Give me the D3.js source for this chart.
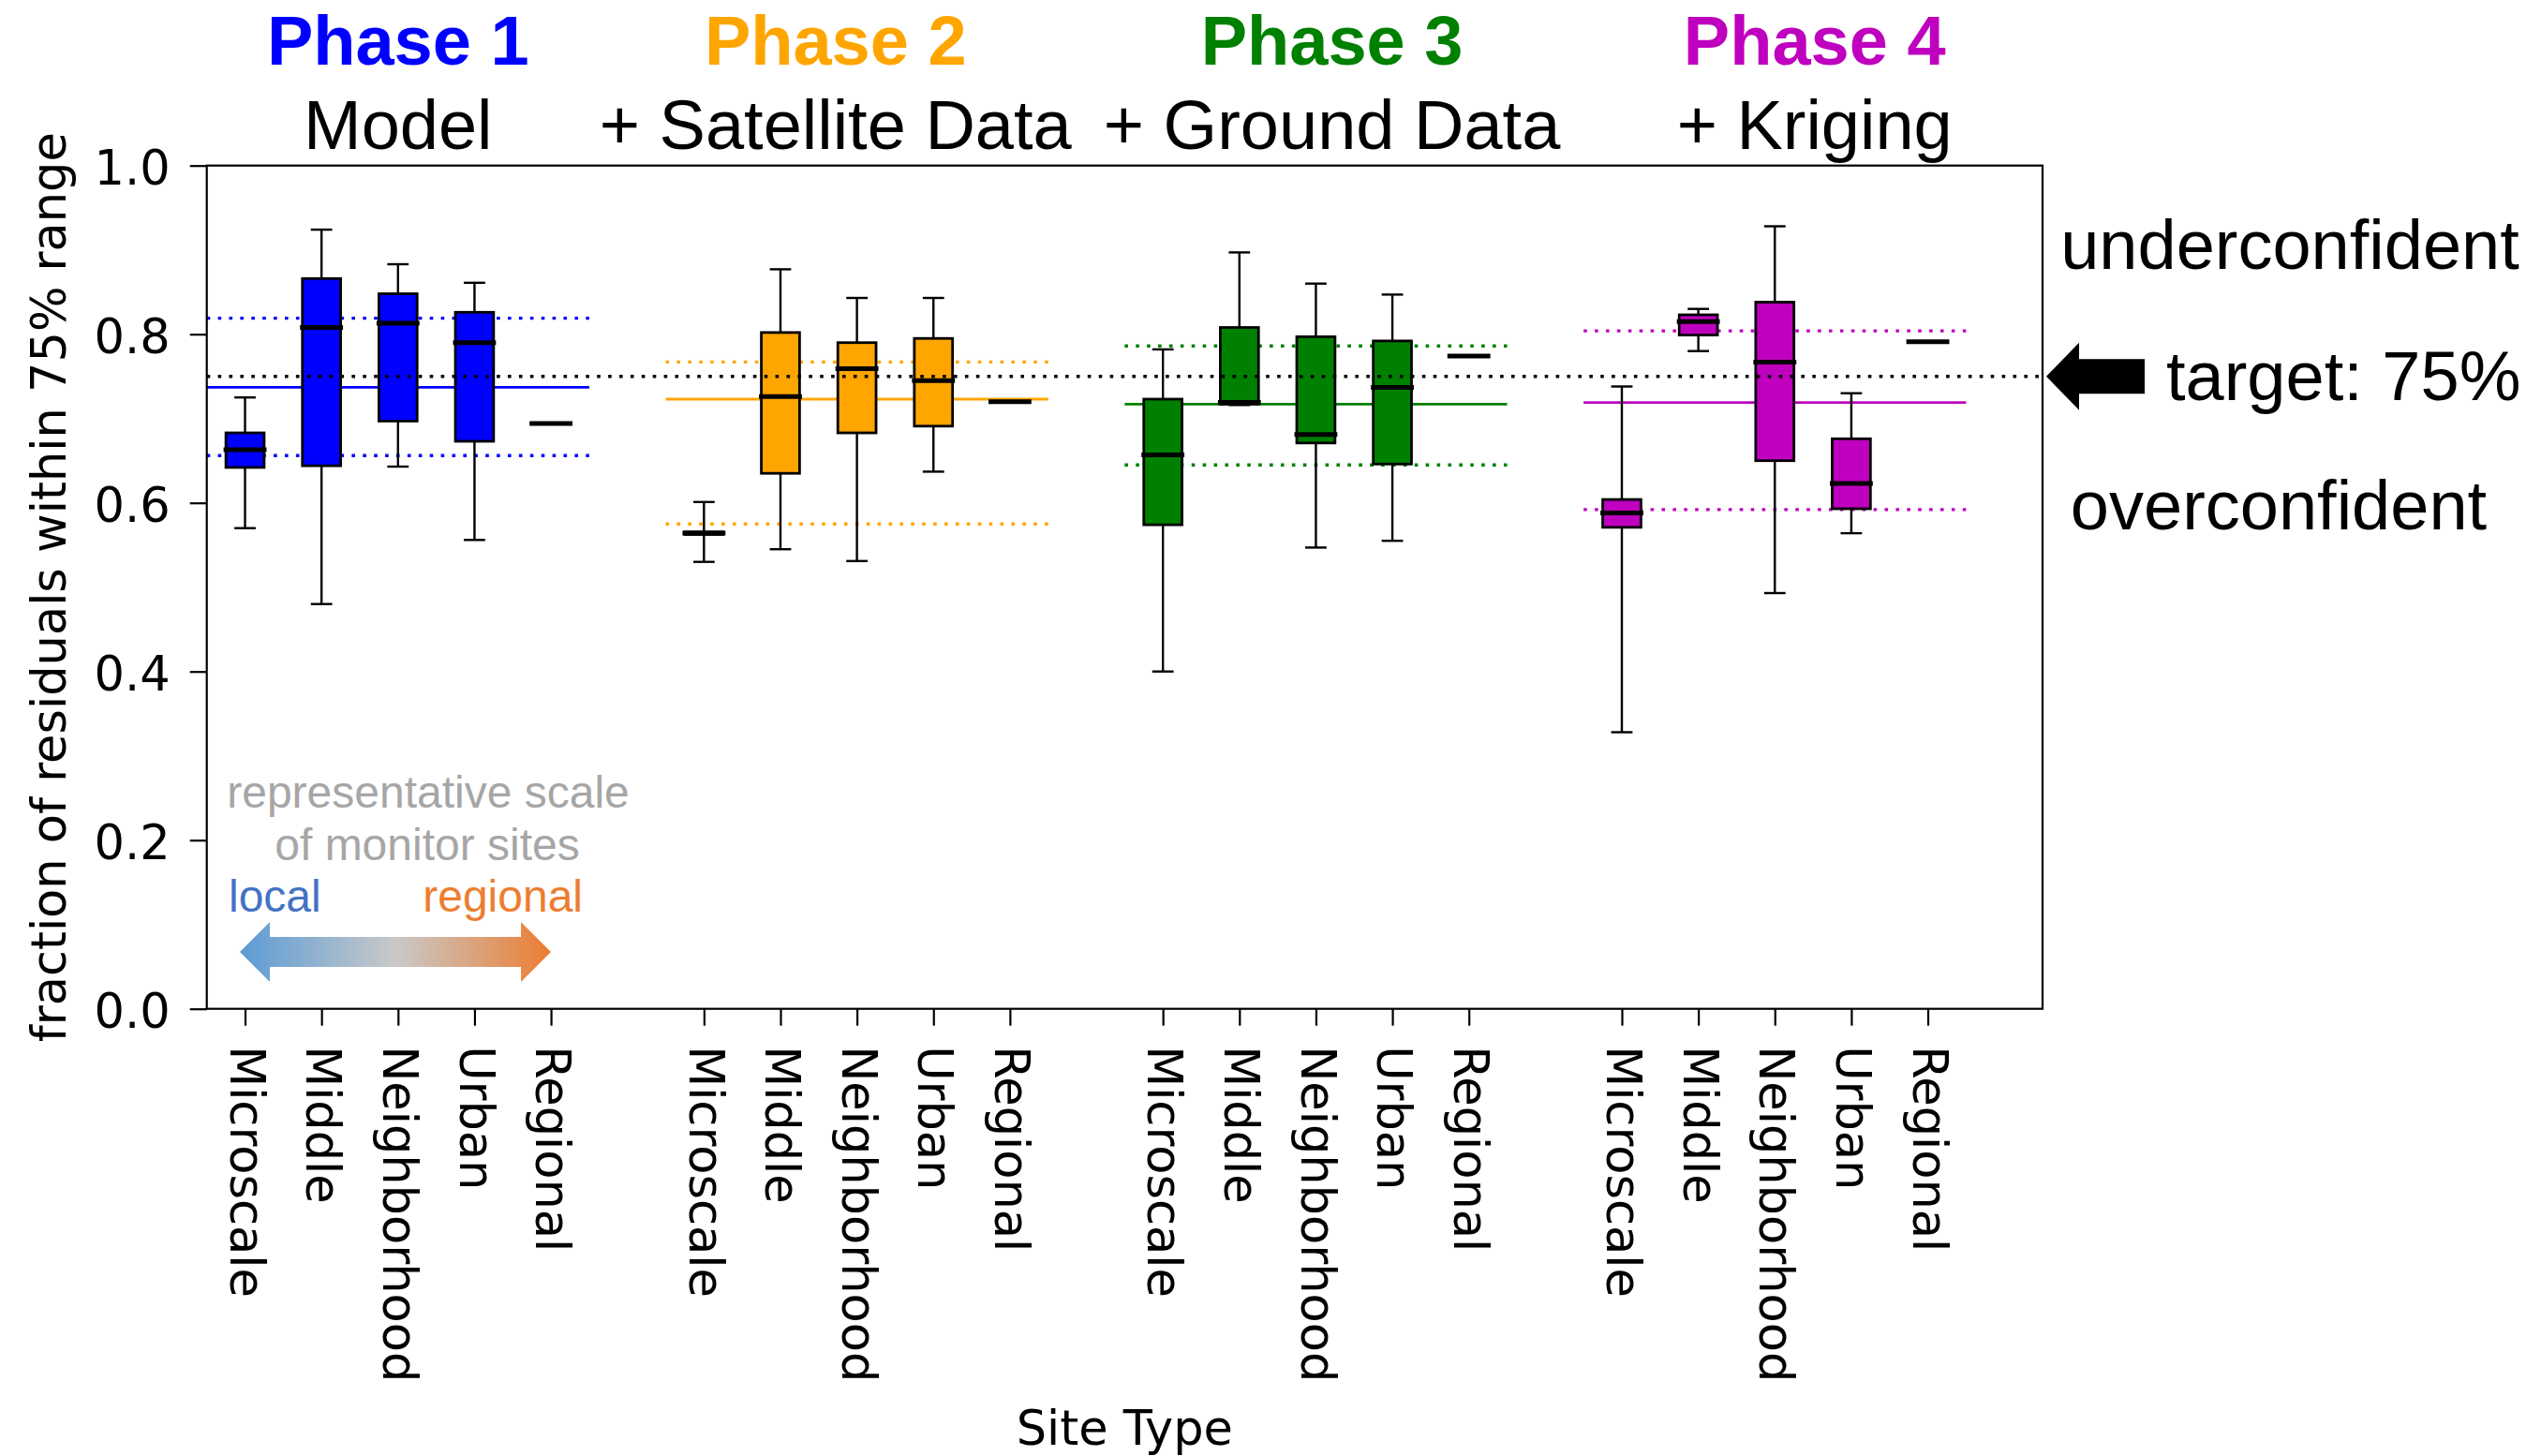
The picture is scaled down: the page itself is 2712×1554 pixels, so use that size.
<!DOCTYPE html>
<html><head><meta charset="utf-8">
<script src="https://cdn.jsdelivr.net/npm/d3@7"></script>
<style>html,body{margin:0;padding:0;background:#fff;}svg{display:block;}</style>
</head><body>
<svg id="chart" width="2712" height="1554"></svg>
<script>
// ---------------- data ----------------
const categories = ["Microscale", "Middle", "Neighborhood", "Urban", "Regional"];
const phaseNames = ["Phase 1", "Phase 2", "Phase 3", "Phase 4"];
const phaseSubtitles = ["Model", "+ Satellite Data", "+ Ground Data", "+ Kriging"];
const yTicks = [0.0, 0.2, 0.4, 0.6, 0.8, 1.0];

const whiskerLow = [
  [0.570, 0.480, 0.643, 0.556, null],
  [0.530, 0.545, 0.531, 0.637, null],
  [0.400, 0.716, 0.547, 0.555, null],
  [0.328, 0.780, 0.493, 0.564, null]
];
const q1 = [
  [0.642, 0.644, 0.697, 0.673, null],
  [0.5625, 0.635, 0.683, 0.691, null],
  [0.574, 0.717, 0.671, 0.646, null],
  [0.571, 0.799, 0.650, 0.593, null]
];
const medians = [
  [0.663, 0.808, 0.813, 0.790, 0.694],
  [0.564, 0.726, 0.759, 0.745, 0.720],
  [0.657, 0.719, 0.681, 0.737, 0.774],
  [0.588, 0.815, 0.767, 0.623, 0.791]
];
const q3 = [
  [0.683, 0.866, 0.848, 0.826, null],
  [0.5655, 0.802, 0.790, 0.795, null],
  [0.723, 0.808, 0.797, 0.792, null],
  [0.604, 0.823, 0.838, 0.676, null]
];
const whiskerHigh = [
  [0.725, 0.924, 0.883, 0.861, null],
  [0.601, 0.877, 0.843, 0.843, null],
  [0.782, 0.897, 0.860, 0.847, null],
  [0.738, 0.830, 0.928, 0.730, null]
];
const phaseMean = [0.737, 0.723, 0.717, 0.719];
const phaseUpper = [0.819, 0.767, 0.786, 0.804];
const phaseLower = [0.656, 0.575, 0.645, 0.592];
const targetValue = 0.75;

// ---------------- layout / style ----------------
const phaseColors = ["#0000ff", "#ffa500", "#008000", "#bf00bf"];
const titleCenters = [2.0, 7.72, 14.21, 20.52];   // in slot units
const groupStride = 6;
const boxWidth = 0.5, capWidth = 0.25;
const tickFont = "'DejaVu Sans', sans-serif";
const annFont = "'Liberation Sans', Arial, sans-serif";

const svg = d3.select("#chart");
const x = d3.scaleLinear().domain([-0.5, 23.5]).range([220.7, 2180]);
const y = d3.scaleLinear().domain([0, 1]).range([1076.7, 176.7]);
const unit = x(1) - x(0);

// flatten boxes
const boxes = [];
phaseNames.forEach((p, i) => {
  categories.forEach((c, j) => {
    boxes.push({
      phase: i, cat: c, pos: i * groupStride + j,
      lo: whiskerLow[i][j], q1: q1[i][j], med: medians[i][j],
      q3: q3[i][j], hi: whiskerHigh[i][j]
    });
  });
});

// ---------- phase reference lines (behind boxes) ----------
const lines = svg.append("g");
phaseNames.forEach((p, i) => {
  const x0 = x(i * groupStride - 0.5), x1 = x(i * groupStride + 4.5);
  lines.append("line").attr("x1", x0).attr("x2", x1)
    .attr("y1", y(phaseMean[i])).attr("y2", y(phaseMean[i]))
    .attr("stroke", phaseColors[i]).attr("stroke-width", 2.8);
  [phaseUpper[i], phaseLower[i]].forEach(v => {
    lines.append("line").attr("x1", x0).attr("x2", x1)
      .attr("y1", y(v)).attr("y2", y(v))
      .attr("stroke", phaseColors[i]).attr("stroke-width", 3.4)
      .attr("stroke-dasharray", "3.6 8.3");
  });
});

// ---------- boxes ----------
const bg = svg.append("g");
boxes.forEach(b => {
  const cx = x(b.pos);
  if (b.q1 !== null) {
    // whiskers
    bg.append("line").attr("x1", cx).attr("x2", cx).attr("y1", y(b.q3)).attr("y2", y(b.hi))
      .attr("stroke", "#000").attr("stroke-width", 2.4);
    bg.append("line").attr("x1", cx).attr("x2", cx).attr("y1", y(b.q1)).attr("y2", y(b.lo))
      .attr("stroke", "#000").attr("stroke-width", 2.4);
    [b.hi, b.lo].forEach(v => {
      bg.append("line").attr("x1", x(b.pos - capWidth / 2)).attr("x2", x(b.pos + capWidth / 2))
        .attr("y1", y(v)).attr("y2", y(v))
        .attr("stroke", "#000").attr("stroke-width", 2.4).attr("stroke-linecap", "square");
    });
    bg.append("rect")
      .attr("x", x(b.pos - boxWidth / 2)).attr("width", boxWidth * unit)
      .attr("y", y(b.q3)).attr("height", Math.max(0, y(b.q1) - y(b.q3)))
      .attr("fill", phaseColors[b.phase]).attr("stroke", "#000").attr("stroke-width", 2.8);
  }
  bg.append("line").attr("x1", x(b.pos - boxWidth / 2)).attr("x2", x(b.pos + boxWidth / 2))
    .attr("y1", y(b.med)).attr("y2", y(b.med))
    .attr("stroke", "#000").attr("stroke-width", 5).attr("stroke-linecap", "square");
});

// ---------- target line ----------
svg.append("line").attr("x1", x(-0.5)).attr("x2", x(23.5))
  .attr("y1", y(targetValue)).attr("y2", y(targetValue))
  .attr("stroke", "#000").attr("stroke-width", 3.4).attr("stroke-dasharray", "3.6 8.3");

// ---------- axes ----------
const yAxis = svg.append("g").attr("transform", `translate(${x(-0.5)},0)`)
  .call(d3.axisLeft(y).tickValues(yTicks).tickFormat(d3.format(".1f")).tickSize(18).tickSizeOuter(0).tickPadding(21));
yAxis.select(".domain").remove();
yAxis.selectAll(".tick line").attr("stroke", "#000").attr("stroke-width", 2.2);
yAxis.selectAll(".tick text").attr("font-family", tickFont).attr("font-size", 51)
  .attr("fill", "#000").attr("dy", "20px");

const slots = boxes.map(b => b.pos);
const xAxis = svg.append("g").attr("transform", `translate(0,${y(0)})`)
  .call(d3.axisBottom(x).tickValues(slots).tickFormat(d => categories[d % groupStride]).tickSize(18).tickSizeOuter(0));
xAxis.select(".domain").remove();
xAxis.selectAll(".tick line").attr("stroke", "#000").attr("stroke-width", 2.2);
xAxis.selectAll(".tick text").attr("font-family", tickFont).attr("font-size", 51).attr("fill", "#000")
  .attr("transform", "rotate(90)").attr("text-anchor", "start")
  .attr("x", 39.5).attr("y", 0).attr("dy", "0.32em");

// frame
svg.append("rect").attr("x", x(-0.5)).attr("y", y(1))
  .attr("width", x(23.5) - x(-0.5)).attr("height", y(0) - y(1))
  .attr("fill", "none").attr("stroke", "#000").attr("stroke-width", 2.2);

// axis labels
svg.append("text").attr("transform", `translate(69.5,${(y(0) + y(1)) / 2}) rotate(-90)`)
  .attr("text-anchor", "middle").attr("font-family", tickFont).attr("font-size", 51)
  .text("fraction of residuals within 75% range");
svg.append("text").attr("x", (x(-0.5) + x(23.5)) / 2).attr("y", 1542)
  .attr("text-anchor", "middle").attr("font-family", tickFont).attr("font-size", 51)
  .text("Site Type");

// ---------- phase titles ----------
phaseNames.forEach((p, i) => {
  svg.append("text").attr("x", x(titleCenters[i])).attr("y", 68.5)
    .attr("text-anchor", "middle").attr("font-family", annFont).attr("font-weight", "bold")
    .attr("font-size", 74).attr("fill", phaseColors[i]).text(p);
  svg.append("text").attr("x", x(titleCenters[i])).attr("y", 158.5)
    .attr("text-anchor", "middle").attr("font-family", annFont)
    .attr("font-size", 74).attr("fill", "#000").text(phaseSubtitles[i]);
});

// ---------- right annotations ----------
svg.append("text").attr("x", 2444).attr("y", 287).attr("text-anchor", "middle")
  .attr("font-family", annFont).attr("font-size", 74).text("underconfident");
svg.append("text").attr("x", 2312).attr("y", 427).attr("text-anchor", "start")
  .attr("font-family", annFont).attr("font-size", 74).text("target: 75%");
svg.append("text").attr("x", 2432).attr("y", 565).attr("text-anchor", "middle")
  .attr("font-family", annFont).attr("font-size", 74).text("overconfident");
const ty = y(targetValue);
svg.append("path").attr("fill", "#000")
  .attr("d", `M2184,${ty} L2219,${ty - 36} L2219,${ty - 18.5} L2289,${ty - 18.5} L2289,${ty + 18.5} L2219,${ty + 18.5} L2219,${ty + 36} Z`);

// ---------- scale legend ----------
const defs = svg.append("defs");
const grad = defs.append("linearGradient").attr("id", "scaleGrad")
  .attr("gradientUnits", "userSpaceOnUse").attr("x1", 256).attr("x2", 588).attr("y1", 0).attr("y2", 0);
grad.append("stop").attr("offset", "0").attr("stop-color", "#5b9bd5");
grad.append("stop").attr("offset", "0.5").attr("stop-color", "#c9c9c9");
grad.append("stop").attr("offset", "1").attr("stop-color", "#ed7d31");
svg.append("path").attr("fill", "url(#scaleGrad)")
  .attr("d", "M256,1016 L288,984 L288,1000 L556,1000 L556,984 L588,1016 L556,1048 L556,1032 L288,1032 L288,1048 Z");
svg.append("text").attr("x", 457).attr("y", 861.5).attr("text-anchor", "middle")
  .attr("font-family", annFont).attr("font-size", 48).attr("fill", "#a6a6a6").text("representative scale");
svg.append("text").attr("x", 456).attr("y", 918).attr("text-anchor", "middle")
  .attr("font-family", annFont).attr("font-size", 48).attr("fill", "#a6a6a6").text("of monitor sites");
svg.append("text").attr("x", 244).attr("y", 972.5).attr("text-anchor", "start")
  .attr("font-family", annFont).attr("font-size", 48).attr("fill", "#4472c4").text("local");
svg.append("text").attr("x", 622).attr("y", 972.5).attr("text-anchor", "end")
  .attr("font-family", annFont).attr("font-size", 48).attr("fill", "#ed7d31").text("regional");
</script>
</body></html>
